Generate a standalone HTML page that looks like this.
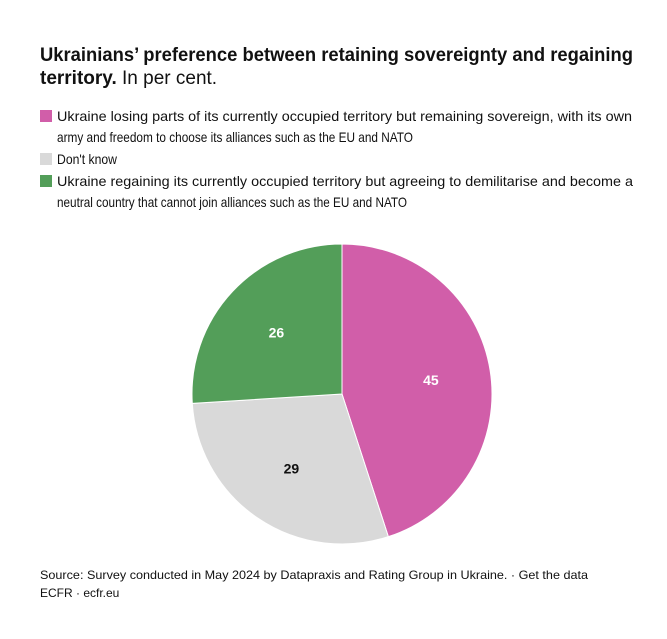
<!DOCTYPE html>
<html><head><meta charset="utf-8"><style>
body{margin:0;background:#fff;width:667px;height:634px;overflow:hidden}
text{font-family:"Liberation Sans",sans-serif;fill:#111}
</style></head><body>
<svg width="667" height="634">
<text x="40" y="61" font-size="19" font-weight="bold" textLength="593" lengthAdjust="spacingAndGlyphs">Ukrainians’ preference between retaining sovereignty and regaining</text>
<text x="40" y="84" font-size="19"><tspan font-weight="bold">territory.</tspan> In per cent.</text>
<g>
<rect x="40" y="110" width="12" height="12" fill="#d15ea9"/>
<text x="57" y="121" font-size="14" textLength="575" lengthAdjust="spacingAndGlyphs">Ukraine losing parts of its currently occupied territory but remaining sovereign, with its own</text>
<text x="57" y="142" font-size="14" textLength="356" lengthAdjust="spacingAndGlyphs">army and freedom to choose its alliances such as the EU and NATO</text>
<rect x="40" y="153" width="12" height="12" fill="#d9d9d9"/>
<text x="57" y="164" font-size="14" textLength="60" lengthAdjust="spacingAndGlyphs">Don't know</text>
<rect x="40" y="175" width="12" height="12" fill="#539e59"/>
<text x="57" y="186" font-size="14" textLength="576" lengthAdjust="spacingAndGlyphs">Ukraine regaining its currently occupied territory but agreeing to demilitarise and become a</text>
<text x="57" y="207" font-size="14" textLength="350" lengthAdjust="spacingAndGlyphs">neutral country that cannot join alliances such as the EU and NATO</text>
</g>
<g id="pie"></g>
<text x="40" y="579" font-size="12" textLength="548" lengthAdjust="spacingAndGlyphs">Source: Survey conducted in May 2024 by Datapraxis and Rating Group in Ukraine. · Get the data</text>
<text x="40" y="597" font-size="12">ECFR · ecfr.eu</text>
</svg>
<script>
const categories=["Sovereign","Don't know","Territory"];
const values=[45,29,26];
const labels=["45","29","26"];
const colors=["#d15ea9","#d9d9d9","#539e59"];
const labelColors=["#fff","#111","#fff"];
const cx=342,cy=394,r=150;
const g=document.getElementById('pie');
const NS="http://www.w3.org/2000/svg";
const total=values.reduce((a,b)=>a+b,0);
let a0=0;
values.forEach((v,i)=>{
  const a1=a0+v/total*2*Math.PI;
  const p=t=>[cx+r*Math.sin(t),cy-r*Math.cos(t)];
  const [x0,y0]=p(a0),[x1,y1]=p(a1);
  const path=document.createElementNS(NS,'path');
  path.setAttribute('d',`M${cx},${cy}L${x0},${y0}A${r},${r} 0 ${a1-a0>Math.PI?1:0} 1 ${x1},${y1}Z`);
  path.setAttribute('fill',colors[i]);
  path.setAttribute('stroke','#fff');
  path.setAttribute('stroke-width','1');
  
  
  g.appendChild(path);
  const m=(a0+a1)/2,lr=r*0.6;
  const t=document.createElementNS(NS,'text');
  t.setAttribute('x',cx+lr*Math.sin(m));
  t.setAttribute('y',cy-lr*Math.cos(m)+5);
  t.setAttribute('text-anchor','middle');
  t.setAttribute('font-size','14');
  t.setAttribute('font-weight','bold');
  t.style.fill=labelColors[i];
  t.textContent=labels[i];
  
  
  g.appendChild(t);
  a0=a1;
});
</script>
</body></html>
